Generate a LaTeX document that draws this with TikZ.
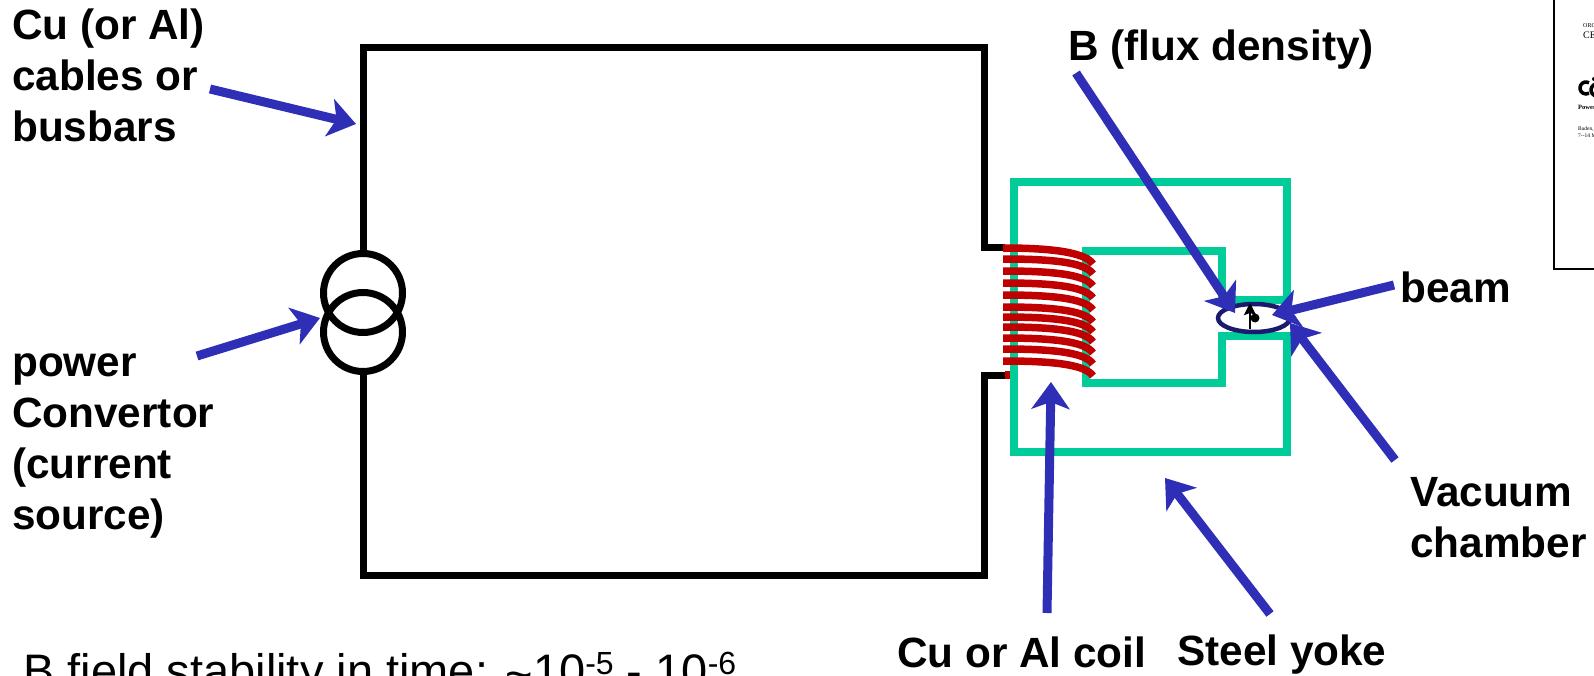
\documentclass[tikz,border=0pt]{standalone}
\usepackage{fontspec}
\setmainfont{Liberation Sans}
\newfontfamily\paperfont{Liberation Serif}
\usetikzlibrary{arrows.meta,calc,shapes.geometric}
\definecolor{arrowblue}{HTML}{2E2EB6}
\definecolor{yokegreen}{HTML}{00CC99}
\definecolor{coilred}{HTML}{C00000}
\definecolor{chambernavy}{HTML}{1A1A6E}
\newcommand{\raisedexp}[1]{\raisebox{13pt}{\fontsize{32}{32}\selectfont #1}}

\begin{document}
\begin{tikzpicture}[
  x=1pt, y=-1pt,
  lbl/.style   = {font=\fontsize{42.3}{51}\selectfont\bfseries, align=left, inner sep=0pt, text=black},
  plain/.style = {font=\fontsize{47}{51}\selectfont, anchor=base west, inner sep=0pt, text=black},
  paper/.style = {font=\paperfont\fontsize{6}{7}\selectfont, anchor=base west, inner sep=0pt, text=black},
  wire/.style  = {draw=black, line width=7pt, line join=miter},
  turn/.style  = {draw=black, line width=7pt, circle, minimum size=79pt, inner sep=0pt},
  yoke/.style  = {draw=yokegreen, line width=8.5pt, line join=miter},
  coil/.style  = {draw=coilred, line width=7.5pt},
  ln/.style    = {-{Stealth[length=27pt,width=38pt,inset=7pt]}, draw=arrowblue, fill=arrowblue, line width=9pt},
]
\path[use as bounding box, clip] (0,0) rectangle (1594,676);

% --- circuit and power convertor ---
\node[turn] (srctop) at (363,293) {};
\node[turn] (srcbot) at (363,332) {};
\coordinate (stubup)  at (1005,248);
\coordinate (stubdn)  at (1005,375);
\draw[wire] (srctop.north) -- (363,48) -- (984,48) -- (984,248) -- (stubup);
\draw[wire] (srcbot.south) -- (363,575) -- (984,575) -- (984,375) -- (stubdn);
\draw[coil] (stubdn) -- (1010,375);

% --- yoke ---
\draw[yoke] (1287,300) -- (1287,182) -- (1014,182) -- (1014,452) -- (1287,452) -- (1287,336)
  -- (1222,336) -- (1222,383) -- (1086,383) -- (1086,251) -- (1222,251) -- (1222,300) -- cycle;

% --- coil turns ---
\foreach \yl/\yr in {248/264, 259/274, 271/286, 283/298, 295/310, 307/322, 317/332, 327/342, 338/353, 349/364, 361/376}
  \draw[coil] (1003,\yl) .. controls (1050,\yl) and (1085,{\yr-12}) .. (1093,\yr);

% --- vacuum chamber and beam ---
\node[draw=chambernavy, line width=4.5pt, ellipse, minimum width=72pt, minimum height=28pt, inner sep=0pt] (chamber) at (1254,318) {};
\fill[black] (1255,318) circle (4.5pt);
\coordinate (bbase) at (1250,329);
\coordinate (btip)  at (1250,303);
\draw[-{Stealth[length=12pt,width=12pt,inset=2pt]}, line width=2.5pt] (bbase) -- (btip);

% --- labels ---
\node[lbl, anchor=north west] (cables) at (12,9) {Cu (or Al)\\cables or\\busbars};
\node[lbl, anchor=north west] (convertor) at (12,353) {power\\Convertor\\(current\\source)};
\node[lbl, anchor=north west] (flux) at (1068,30) {B (flux density)};
\node[lbl, anchor=north west] (beam) at (1400,272) {beam};
\node[lbl, anchor=north west] (vacuum) at (1410,477) {Vacuum\\chamber};
\node[lbl, anchor=north west] (coillbl) at (897,637) {Cu or Al coil};
\node[lbl, anchor=north west] (steel) at (1177,635) {Steel yoke};
\node[plain] (stability) at (23,687) {B field stability in time: \raisebox{-3pt}{\textasciitilde}10\raisedexp{-5} - 10\raisedexp{-6}};

% --- pointers ---
\coordinate (cablesfrom) at (210,89);   \coordinate (cablesto) at (356,124);
\coordinate (convfrom)   at (197,356);  \coordinate (convto)   at (320,318);
\coordinate (fluxfrom)   at (1076,73);  \coordinate (fluxto)   at (1235,313);
\coordinate (beamfrom)   at (1394,285); \coordinate (beamto)   at (1272,315);
\coordinate (vacfrom)    at (1395,460); \coordinate (vacto)    at (1290,323);
\coordinate (coilfrom)   at (1047,613); \coordinate (coilto)   at (1051,382);
\coordinate (steelfrom)  at (1270,614); \coordinate (steelto)  at (1165,478);
\draw[ln] (cablesfrom) -- (cablesto);
\draw[ln] (convfrom) -- (convto);
\draw[ln] (fluxfrom) -- (fluxto);
\draw[ln] (beamfrom) -- (beamto);
\draw[ln] (vacfrom) -- (vacto);
\draw[ln] (coilfrom) -- (coilto);
\draw[ln] (steelfrom) -- (steelto);

% --- inset page ---
\draw[black, line width=1.8pt] (1554,-3) -- (1554,269) -- (1600,269);
\node[paper] (org) at (1583,28) {ORG};
\node[paper, font=\paperfont\fontsize{10}{10}\selectfont] (ce) at (1583,39) {CE};
\node[paper, font=\paperfont\fontsize{6.5}{7}\selectfont\bfseries] (power) at (1578,110) {Power};
\node[paper, font=\paperfont\fontsize{5.5}{6}\selectfont] (baden) at (1578,131) {Baden,};
\node[paper, font=\paperfont\fontsize{5.5}{6}\selectfont] (dates) at (1578,138) {7--14 M};
\draw[black, line width=3.5pt] (1589,82.8) arc (-60:-300:6);
\draw[black, line width=3.5pt] (1600,84.8) arc (-60:-300:6);
\fill[black] (1594,79) circle (2pt);
\end{tikzpicture}
\end{document}
